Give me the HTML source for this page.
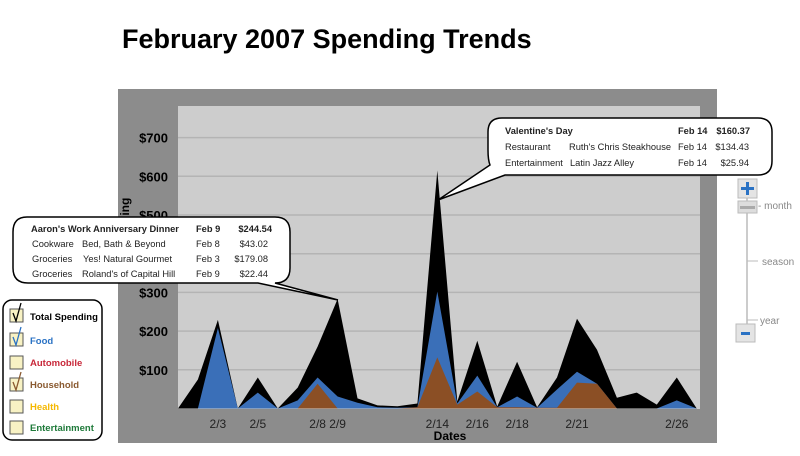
<!DOCTYPE html>
<html><head><meta charset="utf-8"><style>
body{margin:0;background:#fff;width:800px;height:456px;overflow:hidden;font-family:"Liberation Sans",sans-serif}
svg{display:block}
</style></head><body>
<svg id="c" width="800" height="456" viewBox="0 0 800 456" xmlns="http://www.w3.org/2000/svg">
<text x="122" y="48" font-size="27" font-weight="bold" fill="#000">February 2007 Spending Trends</text>
<rect x="118" y="89" width="599" height="354" fill="#8c8c8c"/>
<rect x="178" y="106" width="522" height="303" fill="#cdcdcd"/>
<g id="grid"></g>
<g id="areas"></g>
<g id="xlabels" font-size="12" fill="#222" text-anchor="middle"></g>
<text x="450" y="440" font-size="12" font-weight="bold" text-anchor="middle">Dates</text>
<text transform="translate(129,225) rotate(-90)" font-size="12" font-weight="bold" text-anchor="middle">Spending</text>

<g>
<path d="M27,217 H275 Q290,217 290,232 V268 Q290,283 275,283 L338,300 L258,283 H28 Q13,283 13,268 V232 Q13,217 27,217 Z" fill="#fff" stroke="#000" stroke-width="1.5"/>
<g font-size="9.3" fill="#222">
<text x="31" y="232" font-weight="bold">Aaron's Work Anniversary Dinner</text><text x="196" y="232" font-weight="bold">Feb 9</text><text x="272" y="232" font-weight="bold" text-anchor="end">$244.54</text>
<text x="32" y="247">Cookware</text><text x="82" y="247">Bed, Bath &amp; Beyond</text><text x="196" y="247">Feb 8</text><text x="268" y="247" text-anchor="end">$43.02</text>
<text x="32" y="262">Groceries</text><text x="83" y="262">Yes! Natural Gourmet</text><text x="196" y="262">Feb 3</text><text x="268" y="262" text-anchor="end">$179.08</text>
<text x="32" y="277">Groceries</text><text x="82" y="277">Roland's of Capital Hill</text><text x="196" y="277">Feb 9</text><text x="268" y="277" text-anchor="end">$22.44</text>
</g></g>

<g>
<path d="M502,118 H758 Q772,118 772,132 V161 Q772,175 758,175 H505 L438,200 L490,165 Q488,160 488,150 V132 Q488,118 502,118 Z" fill="#fff" stroke="#000" stroke-width="1.5"/>
<g font-size="9.3" fill="#222">
<text x="505" y="134" font-weight="bold">Valentine's Day</text><text x="678" y="134" font-weight="bold">Feb 14</text><text x="750" y="134" font-weight="bold" text-anchor="end">$160.37</text>
<text x="505" y="150">Restaurant</text><text x="569" y="150">Ruth's Chris Steakhouse</text><text x="678" y="150">Feb 14</text><text x="749" y="150" text-anchor="end">$134.43</text>
<text x="505" y="166">Entertainment</text><text x="570" y="166">Latin Jazz Alley</text><text x="678" y="166">Feb 14</text><text x="749" y="166" text-anchor="end">$25.94</text>
</g></g>

<g>
<rect x="3" y="300" width="99" height="140" rx="9" fill="#fff" stroke="#000" stroke-width="1.5"/>
<g font-size="9.5" font-weight="bold">
<g><rect x="10" y="309" width="13" height="13" fill="#f8f2c4" stroke="#555"/><path d="M13,313 L16,321 L21,303" fill="none" stroke="#000" stroke-width="1.3"/><text x="30" y="320" fill="#000">Total Spending</text></g>
<g><rect x="10" y="333" width="13" height="13" fill="#f8f2c4" stroke="#555"/><path d="M13,337 L16,345 L21,327" fill="none" stroke="#2a72c4" stroke-width="1.3"/><text x="30" y="344" fill="#2a72c4">Food</text></g>
<g><rect x="10" y="356" width="13" height="13" fill="#f8f2c4" stroke="#555"/><text x="30" y="366" fill="#c8283a">Automobile</text></g>
<g><rect x="10" y="378" width="13" height="13" fill="#f8f2c4" stroke="#555"/><path d="M13,382 L16,390 L21,372" fill="none" stroke="#8a5a30" stroke-width="1.3"/><text x="30" y="388" fill="#8a5a30">Household</text></g>
<g><rect x="10" y="400" width="13" height="13" fill="#f8f2c4" stroke="#555"/><text x="30" y="410" fill="#f5b800">Health</text></g>
<g><rect x="10" y="421" width="13" height="13" fill="#f8f2c4" stroke="#555"/><text x="30" y="431" fill="#1f7a3a">Entertainment</text></g>
</g></g>

<g>
<line x1="747" y1="198" x2="747" y2="324" stroke="#bbb" stroke-width="1.5"/>
<line x1="747" y1="261" x2="758" y2="261" stroke="#bbb"/><line x1="747" y1="320" x2="758" y2="320" stroke="#bbb"/>
<g><rect x="738" y="179" width="19" height="19" fill="#e4e4e4" stroke="#bbb"/><path d="M747.5,182 V195 M741,188.5 H754" stroke="#2a72c4" stroke-width="3"/></g>
<g><rect x="738" y="201" width="19" height="12" fill="#ddd" stroke="#bbb"/><rect x="740" y="206" width="15" height="3" fill="#aaa"/></g>
<g><rect x="736" y="324" width="19" height="18" fill="#e4e4e4" stroke="#bbb"/><rect x="741" y="332" width="9" height="3" fill="#2a72c4"/></g>
<g font-size="10" fill="#888"><text x="758" y="209">- month</text><text x="762" y="265">season</text><text x="760" y="324">year</text></g>
</g>
</svg>
<script>
const days = [1,2,3,4,5,6,7,8,9,10,11,12,13,14,15,16,17,18,19,20,21,22,23,24,25,26,27];
const totalValues = [0,75,229,0,80,0,54,160,283,26,8,6,13,615,18,175,5,121,3,80,232,152,28,41,10,80,0];
const foodValues = [0,0,208,0,41,0,21,80,31,15,3,2,3,302,13,85,3,31,2,49,95,64,0,0,0,21,0];
const householdValues = [0,0,0,0,0,0,0,64,0,0,0,0,3,132,10,44,3,3,2,2,67,64,0,0,0,0,0];
const yTicks = [100,200,300,400,500,600,700];
const yTickLabels = ["$100","$200","$300","$400","$500","$600","$700"];
const xLabelDays = [3,5,8,9,14,16,18,21,26];
const xLabelText = ["2/3","2/5","2/8","2/9","2/14","2/16","2/18","2/21","2/26"];

const NS = "http://www.w3.org/2000/svg";
const X = d => 178 + (d - 1) * 19.95;
const Y = v => 408.5 - v * 0.387;
function mk(tag, attrs, parent){const e=document.createElementNS(NS,tag);for(const k in attrs)e.setAttribute(k,attrs[k]);parent.appendChild(e);return e;}
const grid=document.getElementById('grid');
yTicks.forEach((t,i)=>{
  const l=mk('line',{x1:178,x2:700,y1:Y(t),y2:Y(t),stroke:'#b4b4b4','stroke-width':1.5},grid);
  
  
  const tx=mk('text',{x:168,y:Y(t)+5,'font-size':13,'font-weight':'bold','text-anchor':'end',fill:'#000'},grid);
  tx.textContent=yTickLabels[i];
  
  
});
const areas=document.getElementById('areas');
function area(vals,fill,name){
  let d='M'+X(days[0])+','+Y(0);
  vals.forEach((v,i)=>{d+=' L'+X(days[i]).toFixed(1)+','+Y(v).toFixed(1);});
  d+=' L'+X(days[days.length-1])+','+Y(0)+' Z';
  const p=mk('path',{d:d,fill:fill},areas);
  
  
}
area(totalValues,'#000','total-spending-area');
area(foodValues,'#3a6fb8','food-area');
area(householdValues,'#8b4f25','household-area');
const xl=document.getElementById('xlabels');
xLabelDays.forEach((d,i)=>{
  const t=mk('text',{x:X(d),y:428},xl);
  t.textContent=xLabelText[i];
  
  
});
</script>
</body></html>
